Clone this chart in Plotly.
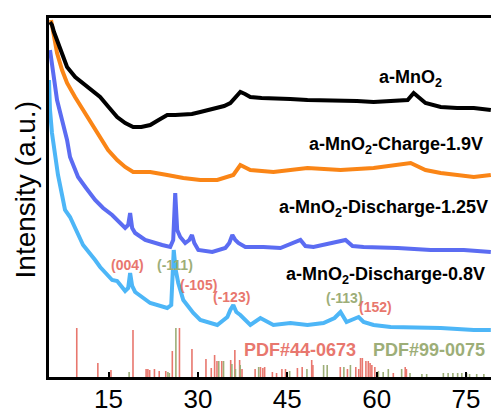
import plotly.graph_objects as go

# ---- XRD patterns (2theta in degrees, intensity in arbitrary units) ----
black_x = [5.17, 5.5, 5.84, 6.35, 7.2, 8.03, 9.4, 10.72, 12.2, 13.58, 15.0, 16.44, 17.8, 19.13, 20.5, 21.99,
           23.4, 24.85, 26.2, 27.54, 29.0, 30.4, 31.8, 33.25, 34.4, 35.44, 36.3, 37.12, 37.9, 38.8, 40.7,
           42.67, 45.5, 48.39, 51.2, 53.94, 56.7, 59.49, 62.3, 65.21, 66.22, 67.2, 68.2, 70.76, 73.5, 76.31, 79.17]
black_y = [355, 352, 345, 337, 322, 310, 300, 294, 287, 280, 270, 260, 254, 250, 250, 252,
           257, 262, 262, 262, 263, 265, 267, 269, 271, 274, 280, 285, 283, 280, 279,
           279, 278, 277, 277, 277, 276, 275, 276, 277, 284, 279, 274, 270, 269, 269, 267]

orange_x = [5.34, 5.84, 6.35, 7.19, 8.03, 9.37, 10.72, 12.23, 13.58, 14.92, 16.44, 17.78, 19.13, 21.99,
            24.85, 27.54, 30.4, 33.25, 35.94, 37.12, 38.8, 42.67, 48.39, 53.94, 59.49, 65.71, 68.2,
            70.76, 76.31, 79.17]
orange_y = [357, 342, 324, 307, 294, 280, 267, 253, 240, 227, 217, 210, 205, 205,
            202, 199, 197, 197, 202, 212, 207, 205, 209, 207, 209, 214, 207,
            204, 200, 202]

blue_x = [5.17, 5.5, 6.0, 6.35, 7.19, 8.03, 8.53, 9.88, 11.22, 12.74, 14.08, 15.6, 17.78, 18.29, 18.62,
          18.96, 19.46, 21.15, 24.0, 25.35, 25.85, 26.19, 26.52, 27.03, 27.87, 28.55, 29.0, 29.39,
          30.06, 32.41, 34.6, 35.27, 35.78, 36.28, 36.79, 37.96, 40.99, 43.85, 47.21, 48.05, 49.4,
          52.26, 54.78, 55.96, 57.81, 63.53, 69.08, 74.63, 79.17]
blue_y = [327, 312, 292, 277, 257, 237, 220, 200, 189, 177, 169, 162, 149, 152, 164,
          149, 144, 137, 132, 130, 137, 184, 147, 140, 134, 137, 142, 134,
          127, 125, 129, 134, 142, 137, 134, 130, 130, 129, 137, 131, 130,
          134, 137, 131, 130, 129, 127, 127, 125]

lblue_x = [5.0, 5.17, 5.5, 6.0, 6.51, 7.19, 7.69, 8.53, 9.88, 10.72, 12.74, 13.58, 15.6, 16.44, 17.78,
           18.29, 18.62, 18.96, 19.46, 21.99, 24.85, 25.52, 25.94, 26.27, 26.7, 27.54, 29.22, 30.4,
           33.25, 34.94, 35.44, 35.94, 36.45, 37.12, 38.8, 40.49, 42.67, 45.53, 48.39, 51.08, 52.93,
           53.94, 54.95, 55.96, 56.97, 57.81, 59.49, 62.35, 65.21, 70.76, 76.31, 79.17]
lblue_y = [297, 267, 244, 222, 202, 182, 167, 160, 144, 132, 117, 110, 97, 96, 86,
           89, 104, 91, 85, 74, 69, 72, 127, 107, 94, 77, 64, 57,
           52, 60, 67, 72, 65, 62, 52, 59, 52, 54, 52, 54, 59,
           65, 55, 57, 60, 55, 52, 50, 50, 49, 47, 47]

# ---- Reference patterns (stick positions / relative intensities) ----
pdf44_x = [9.66, 13.2, 15.4, 19.1, 21.3, 21.6, 21.9, 22.7, 23.5, 24.6, 25.7, 26.9, 29.0, 31.35, 32.24,
           32.8, 33.2, 34.0, 35.5, 36.2, 37.0, 37.4, 39.6, 40.5, 40.9, 41.2, 42.5, 43.2, 44.1, 44.7,
           46.7, 47.5, 49.1, 49.3, 53.9, 55.1, 56.5, 57.0, 57.3, 57.6, 58.2, 58.6, 58.9, 59.2, 59.7,
           62.8, 64.8, 65.0]
pdf44_h = [49, 14, 7, 47, 8, 8, 7, 8, 6, 6, 26, 49, 28, 18, 9,
           22, 16, 16, 17, 27, 17, 8, 8, 10, 9, 10, 5, 4, 8, 8,
           9, 10, 17, 12, 10, 8, 10, 8, 19, 19, 16, 16, 14, 12, 10,
           4, 10, 8]
pdf99_x = [18.45, 24.96, 25.2, 26.3, 33.5, 34.3, 35.7, 36.3, 37.1, 40.2, 45.4, 48.3, 51.1, 51.7, 54.5,
           55.6, 60.3, 61.1, 61.96, 64.2, 65.6, 67.6, 68.4, 71.2, 72.0, 72.8, 73.6, 74.3, 75.1, 75.6,
           76.8, 78.0]
pdf99_h = [5, 5, 4, 49, 16, 16, 13, 8, 12, 10, 6, 8, 12, 12, 10,
           12, 6, 5, 8, 8, 4, 3, 3, 4, 4, 4, 4, 4, 4, 3,
           3, 3]

x_ticks = [15, 30, 45, 60, 75]

RED = "#E8776E"
GREEN = "#9DAE78"
FONT = "Liberation Sans, Arial, sans-serif"


def sticks(xs, hs):
    sx, sy = [], []
    for x, h in zip(xs, hs):
        sx += [x, x, None]
        sy += [0, h, None]
    return sx, sy


fig = go.Figure()
for xs, hs, col in [(pdf44_x, pdf44_h, RED), (pdf99_x, pdf99_h, GREEN)]:
    sx, sy = sticks(xs, hs)
    fig.add_trace(go.Scatter(x=sx, y=sy, mode="lines", line=dict(color=col, width=1.6),
                             hoverinfo="skip", showlegend=False))

for xs, ys, col in [(lblue_x, lblue_y, "#4DB6F7"), (blue_x, blue_y, "#5B6CF2"),
                    (orange_x, orange_y, "#FA8516"), (black_x, black_y, "#000000")]:
    fig.add_trace(go.Scatter(x=xs, y=ys, mode="lines", line=dict(color=col, width=4),
                             showlegend=False))

labels = [
    ("a-MnO<sub>2</sub>", 65.7, 299, "black", 18),
    ("a-MnO<sub>2</sub>-Charge-1.9V", 63.2, 232, "black", 18),
    ("a-MnO<sub>2</sub>-Discharge-1.25V", 61.1, 169, "black", 18),
    ("a-MnO<sub>2</sub>-Discharge-0.8V", 61.5, 102, "black", 18),
    ("(004)", 18.23, 112, RED, 14),
    ("(-111)", 26.19, 112, GREEN, 14),
    ("(-105)", 30.06, 92, RED, 14),
    ("(-123)", 35.6, 80, RED, 14),
    ("(-113)", 54.6, 79, GREEN, 14),
    ("(152)", 59.83, 70, RED, 14),
    ("PDF#44-0673", 47.21, 27, RED, 18),
    ("PDF#99-0075", 68.74, 27, GREEN, 18),
]
for txt, x, y, col, sz in labels:
    fig.add_annotation(x=x, y=y, text=f"<b>{txt}</b>", showarrow=False, xanchor="center",
                       yanchor="middle", font=dict(family=FONT, size=sz, color=col))

fig.add_annotation(xref="paper", yref="paper", x=-0.054, y=0.52, text="Intensity (a.u.)",
                   textangle=-90, showarrow=False, xanchor="center", yanchor="middle",
                   font=dict(family=FONT, size=28, color="black"))

fig.update_layout(
    width=491, height=413,
    margin=dict(l=49, r=0, t=18, b=36),
    paper_bgcolor="white", plot_bgcolor="white",
    xaxis=dict(range=[5, 79.2], tickvals=x_ticks, ticks="inside", ticklen=5, tickwidth=2,
               tickcolor="black", showline=True, linewidth=2.5, linecolor="black", mirror=True,
               showgrid=False, zeroline=False, automargin=False, ticklabelstandoff=-3,
               tickfont=dict(family=FONT, size=26, color="black")),
    yaxis=dict(range=[0, 359], showticklabels=False, ticks="", showline=True, linewidth=2.5,
               linecolor="black", showgrid=False, zeroline=False, automargin=False),
)

fig.write_html("out.html", config={"displayModeBar": False},
               post_script="document.body.style.margin='0';document.body.style.overflow='hidden';")
